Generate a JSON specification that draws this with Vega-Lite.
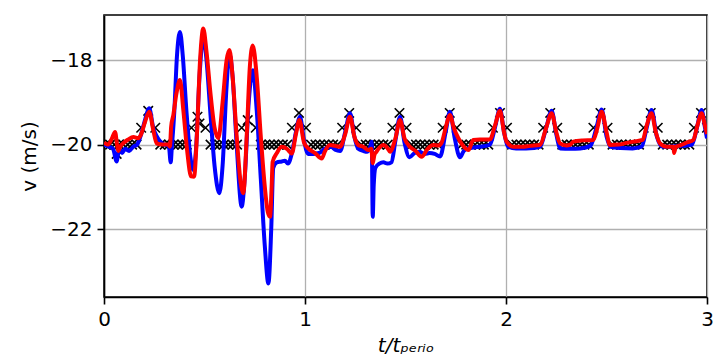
{
  "$schema": "https://vega.github.io/schema/vega-lite/v6.json",
  "width": 603,
  "height": 282,
  "autosize": "none",
  "padding": {"left": 104, "top": 15, "right": 8, "bottom": 66},
  "background": "white",
  "datasets": {
    "ref": [
      {"t": 0.008, "v": -20}, {"t": 0.03, "v": -20}, {"t": 0.052, "v": -20}, {"t": 0.063, "v": -20.22}, {"t": 0.074, "v": -20}, {"t": 0.096, "v": -20}, {"t": 0.118, "v": -20}, {"t": 0.14, "v": -20}, {"t": 0.162, "v": -20},
      {"t": 0.185, "v": -19.6}, {"t": 0.22, "v": -19.2}, {"t": 0.255, "v": -19.6}, {"t": 0.28, "v": -20}, {"t": 0.302, "v": -20}, {"t": 0.324, "v": -20}, {"t": 0.346, "v": -20}, {"t": 0.368, "v": -20}, {"t": 0.39, "v": -20}, {"t": 0.412, "v": -20},
      {"t": 0.435, "v": -19.6}, {"t": 0.465, "v": -19.34}, {"t": 0.475, "v": -19.5}, {"t": 0.505, "v": -19.6}, {"t": 0.53, "v": -20}, {"t": 0.552, "v": -20}, {"t": 0.574, "v": -20}, {"t": 0.596, "v": -20}, {"t": 0.618, "v": -20}, {"t": 0.64, "v": -20}, {"t": 0.662, "v": -20},
      {"t": 0.685, "v": -19.6}, {"t": 0.715, "v": -19.42}, {"t": 0.755, "v": -19.6}, {"t": 0.78, "v": -20}, {"t": 0.802, "v": -20}, {"t": 0.824, "v": -20}, {"t": 0.846, "v": -20}, {"t": 0.868, "v": -20}, {"t": 0.89, "v": -20}, {"t": 0.912, "v": -20},
      {"t": 0.935, "v": -19.6}, {"t": 0.97, "v": -19.25}, {"t": 1.005, "v": -19.6}, {"t": 1.03, "v": -20}, {"t": 1.052, "v": -20}, {"t": 1.074, "v": -20}, {"t": 1.096, "v": -20}, {"t": 1.118, "v": -20}, {"t": 1.14, "v": -20}, {"t": 1.162, "v": -20},
      {"t": 1.185, "v": -19.6}, {"t": 1.22, "v": -19.25}, {"t": 1.255, "v": -19.6}, {"t": 1.28, "v": -20}, {"t": 1.302, "v": -20}, {"t": 1.324, "v": -20}, {"t": 1.346, "v": -20}, {"t": 1.368, "v": -20}, {"t": 1.39, "v": -20}, {"t": 1.412, "v": -20},
      {"t": 1.435, "v": -19.6}, {"t": 1.47, "v": -19.25}, {"t": 1.505, "v": -19.6}, {"t": 1.53, "v": -20}, {"t": 1.552, "v": -20}, {"t": 1.574, "v": -20}, {"t": 1.596, "v": -20}, {"t": 1.618, "v": -20}, {"t": 1.64, "v": -20}, {"t": 1.662, "v": -20},
      {"t": 1.685, "v": -19.6}, {"t": 1.72, "v": -19.25}, {"t": 1.755, "v": -19.6}, {"t": 1.78, "v": -20}, {"t": 1.802, "v": -20}, {"t": 1.824, "v": -20}, {"t": 1.846, "v": -20}, {"t": 1.868, "v": -20}, {"t": 1.89, "v": -20}, {"t": 1.912, "v": -20},
      {"t": 1.935, "v": -19.6}, {"t": 1.97, "v": -19.25}, {"t": 2.005, "v": -19.6}, {"t": 2.03, "v": -20}, {"t": 2.052, "v": -20}, {"t": 2.074, "v": -20}, {"t": 2.096, "v": -20}, {"t": 2.118, "v": -20}, {"t": 2.14, "v": -20}, {"t": 2.162, "v": -20},
      {"t": 2.185, "v": -19.6}, {"t": 2.22, "v": -19.25}, {"t": 2.255, "v": -19.6}, {"t": 2.28, "v": -20}, {"t": 2.302, "v": -20}, {"t": 2.324, "v": -20}, {"t": 2.346, "v": -20}, {"t": 2.368, "v": -20}, {"t": 2.39, "v": -20}, {"t": 2.412, "v": -20},
      {"t": 2.435, "v": -19.6}, {"t": 2.47, "v": -19.25}, {"t": 2.505, "v": -19.6}, {"t": 2.53, "v": -20}, {"t": 2.552, "v": -20}, {"t": 2.574, "v": -20}, {"t": 2.596, "v": -20}, {"t": 2.618, "v": -20}, {"t": 2.64, "v": -20}, {"t": 2.662, "v": -20},
      {"t": 2.685, "v": -19.6}, {"t": 2.72, "v": -19.25}, {"t": 2.755, "v": -19.6}, {"t": 2.78, "v": -20}, {"t": 2.802, "v": -20}, {"t": 2.824, "v": -20}, {"t": 2.846, "v": -20}, {"t": 2.868, "v": -20}, {"t": 2.89, "v": -20}, {"t": 2.912, "v": -20},
      {"t": 2.935, "v": -19.6}, {"t": 2.97, "v": -19.25}, {"t": 3.0, "v": -19.6}
    ],
    "blue": [
      {"t": 0.0, "v": -20.0}, {"t": 0.025, "v": -20.05}, {"t": 0.045, "v": -20.1}, {"t": 0.063, "v": -20.4}, {"t": 0.075, "v": -20.1}, {"t": 0.09, "v": -20.2}, {"t": 0.105, "v": -20.1}, {"t": 0.125, "v": -20.15}, {"t": 0.145, "v": -20.05}, {"t": 0.165, "v": -20.0},
      {"t": 0.185, "v": -19.75}, {"t": 0.205, "v": -19.4}, {"t": 0.225, "v": -19.14}, {"t": 0.245, "v": -19.6}, {"t": 0.262, "v": -19.8}, {"t": 0.28, "v": -19.93}, {"t": 0.3, "v": -20.0}, {"t": 0.322, "v": -20.02}, {"t": 0.332, "v": -20.42}, {"t": 0.337, "v": -20.1},
      {"t": 0.35, "v": -19.2}, {"t": 0.363, "v": -17.9}, {"t": 0.378, "v": -17.33}, {"t": 0.392, "v": -17.9}, {"t": 0.41, "v": -19.2}, {"t": 0.43, "v": -20.3}, {"t": 0.444, "v": -20.6}, {"t": 0.458, "v": -20.1}, {"t": 0.475, "v": -18.4}, {"t": 0.494, "v": -17.45},
      {"t": 0.51, "v": -18.0}, {"t": 0.53, "v": -19.3}, {"t": 0.55, "v": -20.5}, {"t": 0.574, "v": -21.15}, {"t": 0.59, "v": -20.5}, {"t": 0.61, "v": -18.6}, {"t": 0.624, "v": -17.84}, {"t": 0.64, "v": -18.4}, {"t": 0.66, "v": -20.0}, {"t": 0.685, "v": -21.47},
      {"t": 0.7, "v": -20.8}, {"t": 0.72, "v": -19.0}, {"t": 0.74, "v": -18.24}, {"t": 0.76, "v": -19.2}, {"t": 0.78, "v": -20.8}, {"t": 0.8, "v": -22.4}, {"t": 0.818, "v": -23.29}, {"t": 0.832, "v": -22.0}, {"t": 0.842, "v": -20.55}, {"t": 0.86, "v": -20.42},
      {"t": 0.884, "v": -20.4}, {"t": 0.9, "v": -20.38}, {"t": 0.915, "v": -20.45}, {"t": 0.935, "v": -20.2}, {"t": 0.955, "v": -19.7}, {"t": 0.975, "v": -19.34}, {"t": 0.995, "v": -19.9}, {"t": 1.016, "v": -20.22}, {"t": 1.04, "v": -20.22}, {"t": 1.07, "v": -20.2},
      {"t": 1.1, "v": -20.1}, {"t": 1.13, "v": -20.05}, {"t": 1.15, "v": -20.12}, {"t": 1.175, "v": -20.15}, {"t": 1.2, "v": -19.7}, {"t": 1.224, "v": -19.26}, {"t": 1.245, "v": -19.8}, {"t": 1.265, "v": -20.1}, {"t": 1.29, "v": -20.15}, {"t": 1.31, "v": -20.17},
      {"t": 1.325, "v": -20.05}, {"t": 1.332, "v": -19.93}, {"t": 1.337, "v": -21.71}, {"t": 1.342, "v": -20.95}, {"t": 1.35, "v": -20.55}, {"t": 1.37, "v": -20.45}, {"t": 1.39, "v": -20.42}, {"t": 1.41, "v": -20.45}, {"t": 1.43, "v": -20.42}, {"t": 1.45, "v": -19.9},
      {"t": 1.473, "v": -19.34}, {"t": 1.495, "v": -19.95}, {"t": 1.52, "v": -20.3}, {"t": 1.545, "v": -20.2}, {"t": 1.57, "v": -20.17}, {"t": 1.595, "v": -20.22}, {"t": 1.62, "v": -20.2}, {"t": 1.645, "v": -20.22}, {"t": 1.672, "v": -20.28}, {"t": 1.7, "v": -19.7},
      {"t": 1.721, "v": -19.22}, {"t": 1.745, "v": -19.85}, {"t": 1.771, "v": -20.3}, {"t": 1.79, "v": -20.15}, {"t": 1.81, "v": -20.09}, {"t": 1.84, "v": -20.07}, {"t": 1.87, "v": -20.05}, {"t": 1.9, "v": -20.03}, {"t": 1.92, "v": -20.0}, {"t": 1.945, "v": -19.6},
      {"t": 1.97, "v": -19.15}, {"t": 1.99, "v": -19.7}, {"t": 2.01, "v": -20.05}, {"t": 2.05, "v": -20.09}, {"t": 2.1, "v": -20.09}, {"t": 2.14, "v": -20.08}, {"t": 2.17, "v": -20.05}, {"t": 2.2, "v": -19.6}, {"t": 2.227, "v": -19.2}, {"t": 2.25, "v": -19.75},
      {"t": 2.27, "v": -20.09}, {"t": 2.32, "v": -20.1}, {"t": 2.37, "v": -20.09}, {"t": 2.42, "v": -20.03}, {"t": 2.45, "v": -19.6}, {"t": 2.476, "v": -19.17}, {"t": 2.5, "v": -19.8}, {"t": 2.52, "v": -20.05}, {"t": 2.57, "v": -20.08}, {"t": 2.63, "v": -20.09},
      {"t": 2.675, "v": -20.05}, {"t": 2.7, "v": -19.6}, {"t": 2.724, "v": -19.18}, {"t": 2.75, "v": -19.8}, {"t": 2.78, "v": -20.05}, {"t": 2.82, "v": -20.05}, {"t": 2.86, "v": -20.03}, {"t": 2.9, "v": -20.02}, {"t": 2.925, "v": -20.0}, {"t": 2.95, "v": -19.6},
      {"t": 2.973, "v": -19.18}, {"t": 2.99, "v": -19.6}, {"t": 3.0, "v": -19.85}
    ],
    "red": [
      {"t": 0.0, "v": -19.95}, {"t": 0.02, "v": -20.0}, {"t": 0.04, "v": -19.85}, {"t": 0.055, "v": -19.7}, {"t": 0.065, "v": -20.0}, {"t": 0.071, "v": -20.15}, {"t": 0.08, "v": -20.05}, {"t": 0.1, "v": -19.95}, {"t": 0.12, "v": -19.88}, {"t": 0.146, "v": -19.82},
      {"t": 0.17, "v": -19.85}, {"t": 0.185, "v": -19.75}, {"t": 0.205, "v": -19.45}, {"t": 0.225, "v": -19.22}, {"t": 0.245, "v": -19.65}, {"t": 0.262, "v": -19.97}, {"t": 0.29, "v": -20.0}, {"t": 0.32, "v": -20.0}, {"t": 0.328, "v": -20.05}, {"t": 0.334, "v": -19.58},
      {"t": 0.345, "v": -19.3}, {"t": 0.36, "v": -18.8}, {"t": 0.378, "v": -18.47}, {"t": 0.395, "v": -19.2}, {"t": 0.415, "v": -20.2}, {"t": 0.433, "v": -20.75}, {"t": 0.448, "v": -20.76}, {"t": 0.462, "v": -19.8}, {"t": 0.478, "v": -18.0}, {"t": 0.494, "v": -17.25},
      {"t": 0.51, "v": -17.8}, {"t": 0.53, "v": -18.8}, {"t": 0.55, "v": -19.6}, {"t": 0.569, "v": -19.85}, {"t": 0.59, "v": -19.0}, {"t": 0.61, "v": -18.0}, {"t": 0.624, "v": -17.76}, {"t": 0.64, "v": -18.4}, {"t": 0.66, "v": -19.8}, {"t": 0.68, "v": -20.9},
      {"t": 0.693, "v": -21.15}, {"t": 0.71, "v": -19.8}, {"t": 0.725, "v": -18.2}, {"t": 0.74, "v": -17.65}, {"t": 0.76, "v": -18.4}, {"t": 0.78, "v": -19.8}, {"t": 0.8, "v": -21.0}, {"t": 0.815, "v": -21.6}, {"t": 0.826, "v": -21.71}, {"t": 0.834, "v": -21.0},
      {"t": 0.839, "v": -20.41}, {"t": 0.86, "v": -20.2}, {"t": 0.884, "v": -20.05}, {"t": 0.91, "v": -20.1}, {"t": 0.934, "v": -20.21}, {"t": 0.955, "v": -19.75}, {"t": 0.972, "v": -19.42}, {"t": 0.995, "v": -19.95}, {"t": 1.016, "v": -20.09}, {"t": 1.05, "v": -20.2},
      {"t": 1.083, "v": -20.33}, {"t": 1.1, "v": -20.15}, {"t": 1.124, "v": -20.01}, {"t": 1.15, "v": -20.03}, {"t": 1.174, "v": -20.05}, {"t": 1.2, "v": -19.75}, {"t": 1.224, "v": -19.34}, {"t": 1.245, "v": -19.8}, {"t": 1.265, "v": -20.01}, {"t": 1.29, "v": -20.05},
      {"t": 1.315, "v": -20.13}, {"t": 1.33, "v": -20.1}, {"t": 1.337, "v": -20.44}, {"t": 1.345, "v": -20.25}, {"t": 1.355, "v": -20.17}, {"t": 1.39, "v": -20.01}, {"t": 1.41, "v": -20.08}, {"t": 1.423, "v": -20.17}, {"t": 1.45, "v": -19.85}, {"t": 1.473, "v": -19.42},
      {"t": 1.495, "v": -19.85}, {"t": 1.522, "v": -20.05}, {"t": 1.55, "v": -20.15}, {"t": 1.58, "v": -20.29}, {"t": 1.61, "v": -20.1}, {"t": 1.638, "v": -20.01}, {"t": 1.665, "v": -20.02}, {"t": 1.68, "v": -19.95}, {"t": 1.7, "v": -19.6}, {"t": 1.721, "v": -19.3},
      {"t": 1.74, "v": -19.6}, {"t": 1.763, "v": -19.85}, {"t": 1.79, "v": -20.05}, {"t": 1.813, "v": -20.13}, {"t": 1.837, "v": -19.89}, {"t": 1.87, "v": -19.88}, {"t": 1.9, "v": -19.88}, {"t": 1.92, "v": -19.88}, {"t": 1.945, "v": -19.55}, {"t": 1.97, "v": -19.2},
      {"t": 1.99, "v": -19.7}, {"t": 2.003, "v": -19.93}, {"t": 2.036, "v": -20.05}, {"t": 2.08, "v": -20.05}, {"t": 2.12, "v": -20.03}, {"t": 2.169, "v": -20.01}, {"t": 2.2, "v": -19.6}, {"t": 2.227, "v": -19.26}, {"t": 2.25, "v": -19.7}, {"t": 2.269, "v": -19.97},
      {"t": 2.3, "v": -20.02}, {"t": 2.32, "v": -20.0}, {"t": 2.335, "v": -19.93}, {"t": 2.38, "v": -19.9}, {"t": 2.434, "v": -19.89}, {"t": 2.455, "v": -19.6}, {"t": 2.476, "v": -19.22}, {"t": 2.5, "v": -19.7}, {"t": 2.517, "v": -20.01}, {"t": 2.56, "v": -20.0},
      {"t": 2.6, "v": -19.96}, {"t": 2.633, "v": -19.93}, {"t": 2.68, "v": -19.89}, {"t": 2.7, "v": -19.55}, {"t": 2.724, "v": -19.26}, {"t": 2.745, "v": -19.7}, {"t": 2.766, "v": -19.97}, {"t": 2.8, "v": -20.05}, {"t": 2.833, "v": -20.05}, {"t": 2.836, "v": -20.2},
      {"t": 2.845, "v": -20.05}, {"t": 2.866, "v": -20.02}, {"t": 2.9, "v": -19.95}, {"t": 2.932, "v": -19.89}, {"t": 2.952, "v": -19.55}, {"t": 2.973, "v": -19.26}, {"t": 2.99, "v": -19.55}, {"t": 3.0, "v": -19.75}
    ]
  },
  "encoding": {
    "x": {
      "field": "t", "type": "quantitative",
      "scale": {"domain": [0, 3], "nice": false, "zero": false},
      "axis": {"values": [0, 1, 2, 3], "format": "d", "title": "t/tₚₑᵣᵢₒ", "titleFontStyle": "italic", "labelPadding": 5, "titlePadding": 6, "labelFlush": false}
    },
    "y": {
      "field": "v", "type": "quantitative",
      "scale": {"domain": [-23.61, -16.93], "nice": false, "zero": false},
      "axis": {"values": [-22, -20, -18], "format": "d", "title": "v (m/s)", "labelPadding": 5, "titlePadding": 10}
    }
  },
  "layer": [
    {
      "data": {"name": "ref"},
      "mark": {"type": "point", "shape": "M-1,-1L1,1M-1,1L1,-1", "filled": false, "stroke": "black", "strokeWidth": 1.6, "size": 90, "opacity": 1, "clip": true}
    },
    {
      "data": {"name": "blue"},
      "mark": {"type": "line", "color": "#0000ff", "strokeWidth": 4, "interpolate": "monotone", "clip": true}
    },
    {
      "data": {"name": "red"},
      "mark": {"type": "line", "color": "#ff0000", "strokeWidth": 4, "interpolate": "monotone", "clip": true}
    }
  ],
  "config": {
    "view": {"stroke": "black", "strokeWidth": 1.6},
    "axis": {
      "labelFont": "DejaVu Sans", "titleFont": "DejaVu Sans",
      "labelFontSize": 20, "titleFontSize": 20,
      "labelColor": "black", "titleColor": "black", "titleFontWeight": "normal",
      "domainColor": "black", "domainWidth": 1.6,
      "tickColor": "black", "tickWidth": 1.6, "tickSize": 7,
      "gridColor": "#b0b0b0", "gridWidth": 1.3
    }
  }
}
